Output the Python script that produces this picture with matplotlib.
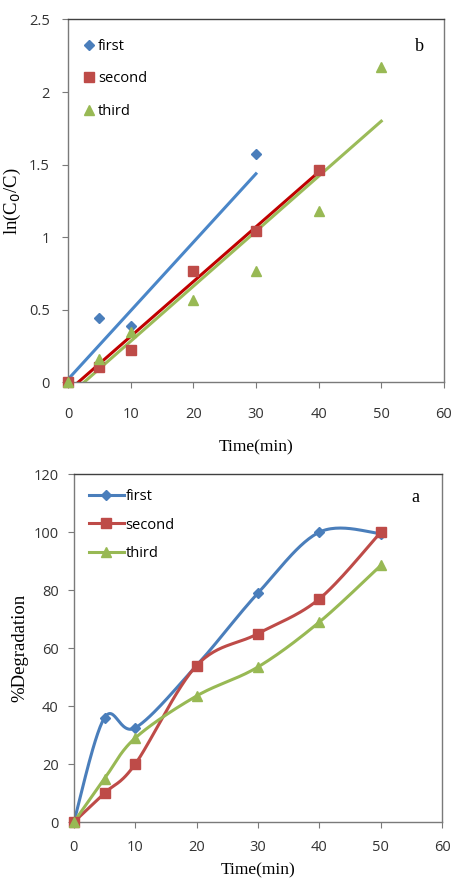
import numpy as np
import matplotlib.pyplot as plt

# data (times in minutes)
t_first = [0, 5, 10, 20, 30]
ln_first = [0, 0.44, 0.39, 0.77, 1.57]
t_second = [0, 5, 10, 20, 30, 40]
ln_second = [0, 0.105, 0.22, 0.77, 1.04, 1.46]
t_third = [0, 5, 10, 20, 30, 40, 50]
ln_third = [0, 0.16, 0.35, 0.57, 0.77, 1.18, 2.17]

t_deg = [0, 5, 10, 20, 30, 40, 50]
deg_first = [0, 36, 32.5, 54, 79, 100, 99.5]
deg_second = [0, 10, 20, 54, 65, 77, 100]
deg_third = [0, 15, 29, 43.5, 53.5, 69, 88.5]

BLUE = "#4A7EBB"
RED = "#BE4B48"
GREEN = "#98B954"
SERIF = "Liberation Serif"
SANS = "Open Sans"


def smooth(x, y, n=30):
    # Excel-style smoothed line (Catmull-Rom through the points)
    x = np.asarray(x, float)
    y = np.asarray(y, float)
    px = np.concatenate([[x[0]], x, [x[-1]]])
    py = np.concatenate([[y[0]], y, [y[-1]]])
    xs, ys = [], []
    for i in range(1, len(px) - 2):
        s = np.linspace(0, 1, n)
        for arr, out in ((px, xs), (py, ys)):
            p0, p1, p2, p3 = arr[i - 1], arr[i], arr[i + 1], arr[i + 2]
            out.extend(0.5 * (2 * p1 + (-p0 + p2) * s
                              + (2 * p0 - 5 * p1 + 4 * p2 - p3) * s ** 2
                              + (-p0 + 3 * p1 - 3 * p2 + p3) * s ** 3))
    return xs, ys


def style_axes(ax, xpad, ypad):
    for sp in ax.spines.values():
        sp.set_color("#7A7A7A")
        sp.set_linewidth(1.0)
    ax.spines["top"].set_color("#404040")
    ax.tick_params(direction="out", length=4, color="#7A7A7A",
                   labelsize=10.5, labelcolor="#333333")
    ax.tick_params(axis="x", pad=xpad)
    ax.tick_params(axis="y", pad=ypad)
    for lab in ax.get_xticklabels() + ax.get_yticklabels():
        lab.set_fontfamily(SANS)


fig = plt.figure(figsize=(4.53, 8.83), dpi=100)

# ---- top panel (b) ----
ax1 = fig.add_axes([0.150, 0.567, 0.830, 0.411])
for t, v, lc in ((t_first, ln_first, "#4A86C8"),
                 (t_second, ln_second, "#C00000"),
                 (t_third, ln_third, "#9BBB59")):
    k, b = np.polyfit(t, v, 1)
    xx = np.array([t[0], t[-1]])
    ax1.plot(xx, k * xx + b, color=lc, lw=2.2, zorder=2, clip_on=True)
for t, v, c, m, lab, ms in ((t_first, ln_first, BLUE, "D", "first", 5.2),
                            (t_second, ln_second, RED, "s", "second", 7.2),
                            (t_third, ln_third, GREEN, "^", "third", 7.5)):
    ax1.plot(t, v, ls="none", marker=m, color=c, ms=ms, label=lab,
             zorder=3, clip_on=False)
ax1.set_xlim(0, 60)
ax1.set_ylim(0, 2.5)
ax1.set_xticks(range(0, 61, 10))
ax1.set_yticks([0, 0.5, 1, 1.5, 2, 2.5])
ax1.set_yticklabels(["0", "0.5", "1", "1.5", "2", "2.5"])
ax1.set_xlabel("Time(min)", fontfamily=SERIF, fontsize=12.5, labelpad=12)
ax1.set_ylabel(r"ln(C$_0$/C)", fontfamily=SERIF, fontsize=13.5, labelpad=4)
ax1.text(0.936, 0.926, "b", transform=ax1.transAxes, fontfamily=SERIF,
         fontsize=13, ha="center", va="center")
ax1.legend(loc="upper left", bbox_to_anchor=(0.03, 0.963), frameon=False,
           handlelength=0.6, handletextpad=0.3, labelspacing=1.22,
           borderaxespad=0.0, prop={"family": SANS, "size": 10.5})
style_axes(ax1, xpad=14, ypad=9)

# ---- bottom panel (a) ----
ax2 = fig.add_axes([0.163, 0.069, 0.813, 0.394])
for v, c, m, lab, ms in ((deg_first, BLUE, "D", "first", 5.5),
                         (deg_second, RED, "s", "second", 7.2),
                         (deg_third, GREEN, "^", "third", 7.5)):
    sx, sy = smooth(t_deg, v)
    ax2.plot(sx, sy, color=c, lw=2.2, zorder=2)
    ax2.plot(t_deg, v, ls="none", marker=m, color=c, ms=ms, zorder=3,
             clip_on=False)
    ax2.plot([], [], color=c, lw=2.2, marker=m, ms=ms, label=lab)
ax2.set_xlim(0, 60)
ax2.set_ylim(0, 120)
ax2.set_xticks(range(0, 61, 10))
ax2.set_yticks(range(0, 121, 20))
ax2.set_xlabel("Time(min)", fontfamily=SERIF, fontsize=12.5, labelpad=5)
ax2.set_ylabel("%Degradation", fontfamily=SERIF, fontsize=13.5, labelpad=4)
ax2.text(0.927, 0.934, "a", transform=ax2.transAxes, fontfamily=SERIF,
         fontsize=13, ha="center", va="center")
ax2.legend(loc="upper left", bbox_to_anchor=(0.025, 0.975), frameon=False,
           handlelength=2.4, handletextpad=0.1, labelspacing=0.95,
           borderaxespad=0.0, prop={"family": SANS, "size": 10.5})
style_axes(ax2, xpad=9, ypad=7)

fig.savefig("out.png", dpi=100)
